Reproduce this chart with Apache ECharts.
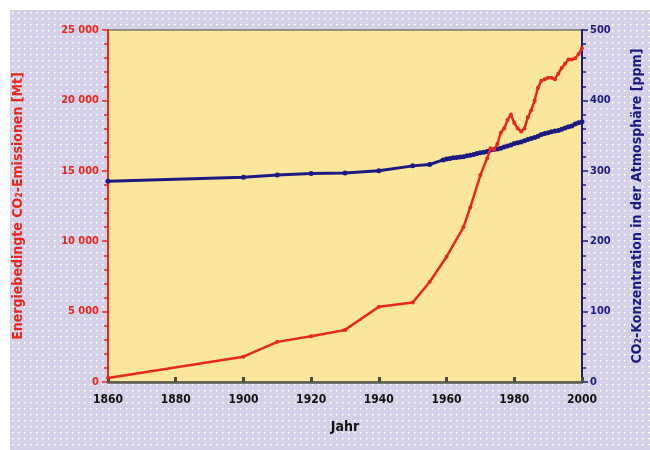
<!DOCTYPE html>
<html>
<head>
<meta charset="utf-8">
<script src="https://cdn.jsdelivr.net/npm/echarts@6/dist/echarts.min.js"></script>
<style>
html,body{margin:0;padding:0;background:#ffffff;}
#c{width:650px;height:450px;}
</style>
</head>
<body>
<div id="c"></div>
<script>
// ---- data ----
const emissionYears = [1860,1900,1910,1920,1930,1940,1950,1955,1960,1965,1967,1970,1972,1973,1974,1975,1976,1977,1978,1979,1980,1981,1982,1983,1984,1985,1986,1987,1988,1989,1990,1991,1992,1993,1994,1995,1996,1997,1998,1999,2000];
const emissionValues = [280,1800,2850,3250,3700,5350,5650,7100,8900,11000,12400,14700,15900,16600,16500,16900,17700,18000,18600,19000,18400,18000,17800,18000,18800,19300,20000,20900,21400,21500,21600,21600,21500,21900,22300,22600,22900,22900,23000,23300,23700];

const co2Years = [1860,1900,1910,1920,1930,1940,1950,1955,1959,1960,1961,1962,1963,1964,1965,1966,1967,1968,1969,1970,1971,1972,1973,1974,1975,1976,1977,1978,1979,1980,1981,1982,1983,1984,1985,1986,1987,1988,1989,1990,1991,1992,1993,1994,1995,1996,1997,1998,1999,2000];
const co2Values = [285,291,294,296,297,300,307,309,315.5,316.9,317.6,318.5,319,319.6,320,321.4,322.2,323.1,324.6,325.7,326.3,327.5,329.7,330.2,331.1,332.1,333.8,335.4,336.8,338.7,340,341,342.6,344.4,345.9,347.2,348.9,351.5,352.9,354.2,355.6,356.4,357.1,358.9,360.9,362.6,363.8,366.6,368.3,369.5];

const xTicks = [1860,1880,1900,1920,1940,1960,1980,2000];
const leftTicks = [0,5000,10000,15000,20000,25000];
const rightTicks = [0,100,200,300,400,500];

const leftTitle = 'Energiebedingte CO₂-Emissionen [Mt]';
const rightTitle = 'CO₂-Konzentration in der Atmosphäre [ppm]';
const xTitle = 'Jahr';

// ---- patterns ----
function makePattern(size, base, dots){
  const c = document.createElement('canvas');
  c.width = size; c.height = size;
  const g = c.getContext('2d');
  g.fillStyle = base; g.fillRect(0,0,size,size);
  dots.forEach(d => { g.fillStyle = d[2]; g.fillRect(d[0], d[1], 1, 1); });
  return c;
}
const outerPat = makePattern(6, '#d3d0e8', [[0,0,'#ffffff'],[1,0,'#f4f2fb'],[0,1,'#f4f2fb'],[3,3,'#ecc9e6']]);
const innerPat = makePattern(2, '#fde89a', [[0,0,'#f6e0a6'],[1,1,'#feeb96']]);

const FONT = '"Liberation Sans Narrow", "DejaVu Sans Condensed", Arial, sans-serif';
const RED = '#e8281e';
const NAVY = '#1c1a82';

const chart = echarts.init(document.getElementById('c'), null, {renderer:'canvas'});

const fmt = v => {
  if (v >= 1000) { const s = String(v); return s.slice(0, s.length-3) + ' ' + s.slice(-3); }
  return String(v);
};

chart.setOption({
  animation: false,
  backgroundColor: '#ffffff',
  graphic: [{
    type: 'rect', z: -10, silent: true,
    shape: {x: 10, y: 10, width: 640, height: 440},
    style: {fill: {image: outerPat, repeat: 'repeat'}}
  }],
  grid: {
    left: 108, right: 68, top: 30, bottom: 68,
    containLabel: false,
    outerBoundsMode: 'none',
    show: true,
    backgroundColor: {image: innerPat, repeat: 'repeat'},
    borderColor: '#7a7a6a', borderWidth: 1.5
  },
  xAxis: {
    type: 'value', min: 1860, max: 2000, interval: 20,
    name: xTitle, nameLocation: 'middle', nameGap: 38,
    nameTextStyle: {color: '#111', fontFamily: FONT, fontWeight: 'bold', fontSize: 14},
    axisLine: {show: true, lineStyle: {color: '#5c5c50', width: 2.5}},
    axisTick: {show: true, length: 5, inside: true, lineStyle: {color: '#4a4a40', width: 3}},
    axisLabel: {color: '#111', fontFamily: FONT, fontWeight: 'bold', fontSize: 12, margin: 12,
      formatter: v => String(v)},
    splitLine: {show: false}
  },
  yAxis: [{
    type: 'value', min: 0, max: 25000, interval: 5000, position: 'left',
    name: leftTitle, nameLocation: 'middle', nameGap: 83, nameRotate: 90,
    nameTextStyle: {color: RED, fontFamily: FONT, fontSize: 14, fontWeight: 'bold'},
    axisLine: {show: true, lineStyle: {color: RED, width: 2}},
    axisTick: {show: true, length: 6, lineStyle: {color: RED, width: 1.5}},
    minorTick: {show: true, splitNumber: 5, length: 4, lineStyle: {color: RED, width: 1.5}},
    axisLabel: {color: RED, fontFamily: FONT, fontWeight: 'bold', fontSize: 11, margin: 9, formatter: fmt},
    splitLine: {show: false}
  }, {
    type: 'value', min: 0, max: 500, interval: 100, position: 'right',
    name: rightTitle, nameLocation: 'middle', nameGap: 48, nameRotate: 90,
    nameTextStyle: {color: NAVY, fontFamily: FONT, fontSize: 14, fontWeight: 'bold'},
    axisLine: {show: true, lineStyle: {color: NAVY, width: 2}},
    axisTick: {show: true, length: 6, lineStyle: {color: NAVY, width: 1.5}},
    minorTick: {show: true, splitNumber: 5, length: 4, lineStyle: {color: NAVY, width: 1.5}},
    axisLabel: {color: NAVY, fontFamily: FONT, fontWeight: 'bold', fontSize: 11, margin: 8},
    splitLine: {show: false}
  }],
  series: [{
    type: 'line', yAxisIndex: 1, name: 'ppm',
    data: co2Years.map((y,i) => [y, co2Values[i]]),
    lineStyle: {color: NAVY, width: 3},
    itemStyle: {color: NAVY},
    symbol: 'circle', symbolSize: 5, showAllSymbol: true,
    z: 3
  }, {
    type: 'line', yAxisIndex: 0, name: 'Mt',
    data: emissionYears.map((y,i) => [y, emissionValues[i]]),
    lineStyle: {color: RED, width: 2.5},
    itemStyle: {color: RED},
    symbol: 'circle', symbolSize: 4, showAllSymbol: true,
    z: 4
  }]
});
</script>
</body>
</html>
